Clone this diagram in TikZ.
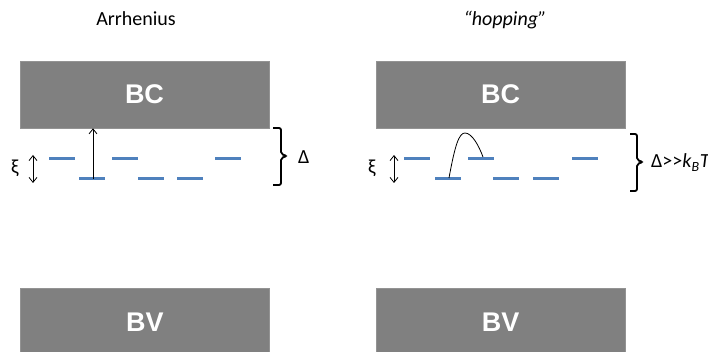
\documentclass[tikz,border=0pt]{standalone}
\usepackage{fontspec}
\setmainfont{Carlito}
\newfontfamily\boxfont{Liberation Sans}
\usetikzlibrary{arrows.meta}
\definecolor{bandgray}{RGB}{128,128,128}
\definecolor{levelblue}{RGB}{79,129,189}
\tikzset{
  band/.style={fill=bandgray, draw=bandgray!85!white, line width=0.6pt, minimum width=249pt, minimum height=67pt, inner sep=0pt,
    text=white, font=\boxfont\bfseries\fontsize{27}{30}\selectfont},
  level/.style={levelblue, line width=3pt},
  thinarrow/.style={black, line width=0.8pt, -{Straight Barb[length=5pt,width=8pt]}},
  dblarrow/.style={black, line width=0.8pt, {Straight Barb[length=5pt,width=8pt]}-{Straight Barb[length=5pt,width=8pt]}},
  bracestyle/.style={black, line width=1.8pt, rounded corners=2pt},
  lbl/.style={inner sep=0pt, font=\fontsize{20}{22}\selectfont},
  title/.style={inner sep=0pt, font=\fontsize{20}{22}\selectfont}
}
\begin{document}
\begin{tikzpicture}[x=1pt,y=-1pt]
\useasboundingbox (0,0) rectangle (708,352);
% titles
\node[title, anchor=base] (t1) at (136,26) {Arrhenius};
\node[title, anchor=base] (t2) at (505,26) {\itshape “hopping”};
% bands
\node[band] (bc1) at (144.5,94.5) {BC};
\node[band] (bc2) at (500.5,94.5) {BC};
\node[band] (bv1) at (145,322) {BV};
\node[band] (bv2) at (500.5,322) {BV};
% left levels
\foreach \a/\b in {49/75,112/138,215/241} \draw[level] (\a,159) -- (\b,159);
\foreach \a/\b in {79/105,138/164,177/203} \draw[level] (\a,179) -- (\b,179);
% right levels
\foreach \a/\b in {404/430,468/494,572/598} \draw[level] (\a,159) -- (\b,159);
\foreach \a/\b in {435/461,493/519,533/559} \draw[level] (\a,179) -- (\b,179);
% Arrhenius excitation
\coordinate (ex0) at (93,179);
\draw[thinarrow] (ex0) -- (bc1.south -| ex0);
% hopping curve
\coordinate (h0) at (449,178);
\coordinate (hp) at (465,133);
\coordinate (h1) at (483,157);
\draw[black, line width=0.8pt] (h0) .. controls (455,145) and (459,133) .. (hp) .. controls (472,133) and (479,146) .. (h1);
% xi
\node[lbl] (xi1) at (15,168) {ξ};
\coordinate (d1a) at (33,155);
\coordinate (d1b) at (33,183);
\draw[dblarrow] (d1a) -- (d1b);
\node[lbl] (xi2) at (372,168) {ξ};
\coordinate (d2a) at (394,155);
\coordinate (d2b) at (394,183);
\draw[dblarrow] (d2a) -- (d2b);
% braces
\coordinate (b1a) at (273,128);
\coordinate (b1b) at (273,185);
\draw[bracestyle] (b1a) -- (281,128) -- (281,154) -- (287,156) -- (281,158) -- (281,185) -- (b1b);
\node[lbl, anchor=base west] (D1) at (298,164) {Δ};
\coordinate (b2a) at (630,134);
\coordinate (b2b) at (630,191);
\draw[bracestyle] (b2a) -- (637,134) -- (637,160) -- (643,162) -- (637,164) -- (637,191) -- (b2b);
\node[lbl, anchor=base west] (D2) at (651,168) {Δ>{}>\textit{k}\textsubscript{\textit{B}}\textit{T}};
\end{tikzpicture}
\end{document}
